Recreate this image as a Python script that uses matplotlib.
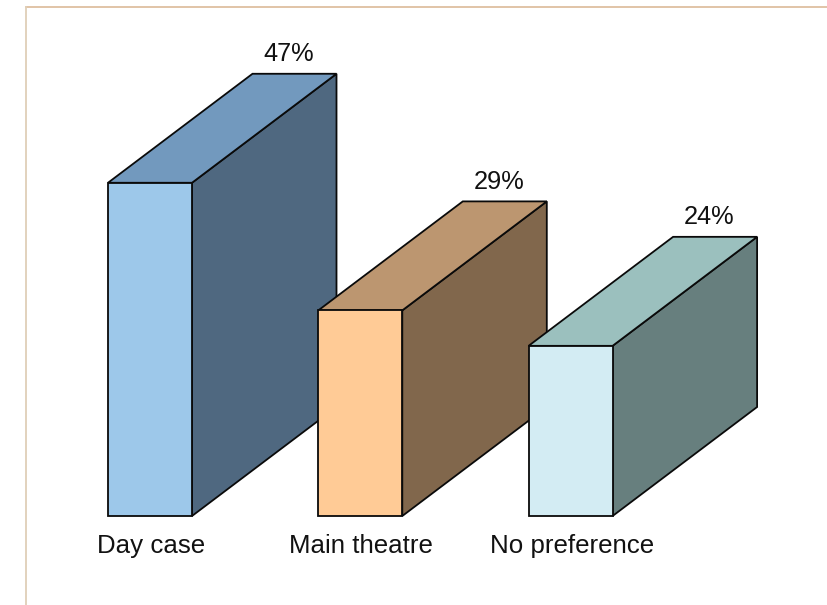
import matplotlib
matplotlib.use("Agg")
import matplotlib.pyplot as plt
from matplotlib.patches import Polygon
from matplotlib.lines import Line2D

categories = ["Day case", "Main theatre", "No preference"]
percentages = [47, 29, 24]
value_labels = ["47%", "29%", "24%"]
front_colors = ["#9DC8EA", "#FFCB96", "#D3ECF3"]
side_colors = ["#4F6880", "#81674C", "#677F7E"]
top_colors = ["#7299BE", "#BC9670", "#9BC0BE"]

plt.rcParams["font.family"] = ["Liberation Sans", "DejaVu Sans"]

W, H = 827, 605
fig = plt.figure(figsize=(W / 100, H / 100), dpi=100, facecolor="white")
ax = fig.add_axes([0, 0, 1, 1])
ax.axis("off")

# Scales: one category step is 210 px, one percent is about 7.1 px, baseline at y = 516 px
X_STEP, Y_UNIT, X0, Y0 = 210.3, 7.09, 150, 516
ax.set_xlim((0 - X0) / X_STEP, (W - X0) / X_STEP)
ax.set_ylim((Y0 - H) / Y_UNIT, (Y0 - 0) / Y_UNIT)

half_width = 42 / X_STEP
depth_x = 144.5 / X_STEP
depth_y = 109 / Y_UNIT
edge = dict(edgecolor="#0A0A0A", linewidth=1.3, joinstyle="miter")

for i, (name, value, label) in enumerate(zip(categories, percentages, value_labels)):
    left, right = i - half_width, i + half_width
    # Side, top and front faces of the extruded block
    ax.add_patch(Polygon([(right, 0), (right + depth_x, depth_y),
                          (right + depth_x, value + depth_y), (right, value)],
                         facecolor=side_colors[i], zorder=2 + i, **edge))
    ax.add_patch(Polygon([(left, value), (right, value),
                          (right + depth_x, value + depth_y),
                          (left + depth_x, value + depth_y)],
                         facecolor=top_colors[i], zorder=2 + i, **edge))
    ax.add_patch(Polygon([(left, 0), (right, 0), (right, value), (left, value)],
                         facecolor=front_colors[i], zorder=2 + i, **edge))
    ax.text(i + depth_x - 6 / X_STEP, value + depth_y + 12.5 / Y_UNIT, label,
            ha="center", va="baseline", fontsize=18.3, color="#111111", zorder=10)
    ax.text(i + 1 / X_STEP, -37 / Y_UNIT, name, ha="center", va="baseline",
            fontsize=18.6, color="#111111", zorder=10)

# Thin tan rule along the top and left of the panel
fig.add_artist(Line2D([26 / W, 1], [1 - 6.5 / H, 1 - 6.5 / H], color="#D9B48F", lw=1.1,
                      transform=fig.transFigure))
fig.add_artist(Line2D([26 / W, 26 / W], [0, 1 - 6.5 / H], color="#DFCFB8", lw=1.3,
                      transform=fig.transFigure))

fig.savefig("out.png", dpi=100, facecolor="white")
